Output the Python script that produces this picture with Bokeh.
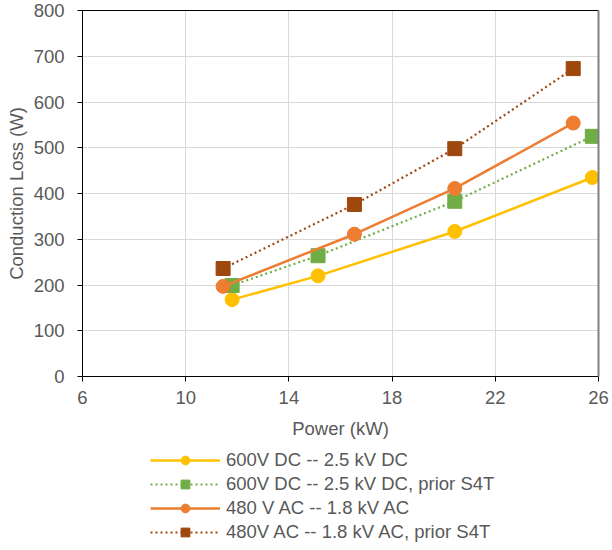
from bokeh.plotting import figure
from bokeh.layouts import column
from bokeh.models import FixedTicker, LinearAxis, Legend, LegendItem, Range1d
from bokeh.embed import file_html
from bokeh.resources import INLINE

# ---- data ----
x_ticks = [6, 10, 14, 18, 22, 26]
y_ticks = [0, 100, 200, 300, 400, 500, 600, 700, 800]

power_dc = [11.8, 15.13, 20.43, 25.76]
loss_dc = [168, 220, 317, 435]

power_dc_prior = [11.8, 15.13, 20.43, 25.76]
loss_dc_prior = [199, 264, 383, 525]

power_ac = [11.45, 16.54, 20.43, 25.02]
loss_ac = [197, 311, 411, 554]

power_ac_prior = [11.45, 16.54, 20.43, 25.02]
loss_ac_prior = [236, 376, 498, 673]

labels = [
    "600V DC -- 2.5 kV DC",
    "600V DC -- 2.5 kV DC, prior S4T",
    "480 V AC -- 1.8 kV AC",
    "480V AC -- 1.8 kV AC, prior S4T",
]
colors = ["#FFC000", "#70AD47", "#ED7D31", "#9E480E"]

FONT = "Liberation Sans"
FS = "18.5px"
TXT = "#595959"

fig = figure(
    width=610, height=445,
    x_range=Range1d(6, 26), y_range=Range1d(0, 800),
    output_backend="svg", toolbar_location=None,
    min_border_left=82, min_border_top=10, min_border_right=12, min_border_bottom=69,
    background_fill_color="white", border_fill_color="white",
    outline_line_color=None,
)

fig.xgrid.grid_line_color = "#D9D9D9"
fig.ygrid.grid_line_color = "#D9D9D9"
fig.xgrid.ticker = FixedTicker(ticks=x_ticks)
fig.ygrid.ticker = FixedTicker(ticks=y_ticks)

for ax in (fig.xaxis[0], fig.yaxis[0]):
    ax.axis_line_color = "black"
    ax.axis_line_width = 1
    ax.major_tick_line_color = "black"
    ax.major_tick_out = 5
    ax.major_tick_in = 0
    ax.minor_tick_line_color = None
    ax.major_label_text_font = FONT
    ax.major_label_text_font_size = FS
    ax.major_label_text_color = TXT
    ax.axis_label_text_font = FONT
    ax.axis_label_text_font_size = FS
    ax.axis_label_text_color = TXT
    ax.axis_label_text_font_style = "normal"

fig.xaxis[0].ticker = FixedTicker(ticks=x_ticks)
fig.yaxis[0].ticker = FixedTicker(ticks=y_ticks)
fig.xaxis[0].axis_label = "Power (kW)"
fig.yaxis[0].axis_label = "Conduction Loss (W)"
fig.xaxis[0].major_label_standoff = 9
fig.yaxis[0].major_label_standoff = 13
fig.xaxis[0].axis_label_standoff = 11
fig.yaxis[0].axis_label_standoff = 4

# frame border: top black, right gray
top_ax = LinearAxis(ticker=FixedTicker(ticks=[]), major_label_text_font_size="0px",
                    axis_line_color="black", major_tick_line_color=None, minor_tick_line_color=None)
right_ax = LinearAxis(ticker=FixedTicker(ticks=[]), major_label_text_font_size="0px",
                      axis_line_color="#808080", axis_line_width=2,
                      major_tick_line_color=None, minor_tick_line_color=None)
top_ax.major_label_standoff = 0
right_ax.major_label_standoff = 0
fig.add_layout(top_ax, "above")
fig.add_layout(right_ax, "right")

series = [
    (power_dc, loss_dc, "solid", "circle"),
    (power_dc_prior, loss_dc_prior, "2 3", "square"),
    (power_ac, loss_ac, "solid", "circle"),
    (power_ac_prior, loss_ac_prior, "2 3", "square"),
]

# legend lives in a separate strip below the chart
leg_fig = figure(
    width=610, height=105,
    x_range=Range1d(1000, 1001), y_range=Range1d(1000, 1001),
    x_axis_type=None, y_axis_type=None,
    output_backend="svg", toolbar_location=None,
    min_border=0, outline_line_color=None,
    background_fill_color="white", border_fill_color="white",
)
leg_fig.grid.visible = False

items = []
for (xs, ys, dash, marker), lab, col in zip(series, labels, colors):
    lw = 2.5 if dash == "solid" else 2.2
    fig.line(xs, ys, line_color=col, line_width=lw, line_dash=dash)
    fig.scatter(xs, ys, marker=marker, size=14, fill_color=col, line_color=col)
    l1 = leg_fig.line(xs, ys, line_color=col, line_width=lw, line_dash=dash)
    l2 = leg_fig.scatter(xs, ys, marker=marker, size=12, fill_color=col, line_color=col)
    items.append(LegendItem(label=lab, renderers=[l1, l2]))

legend = Legend(
    items=items, location=(68, 7), orientation="vertical",
    label_text_font=FONT, label_text_font_size=FS, label_text_color=TXT,
    glyph_width=70, glyph_height=22, label_height=22, spacing=2,
    label_standoff=6, padding=0, margin=0,
    border_line_color=None, background_fill_alpha=0,
)
leg_fig.add_layout(legend)

p = column(fig, leg_fig, spacing=0)

open("out.html", "w").write(file_html(p, INLINE))
